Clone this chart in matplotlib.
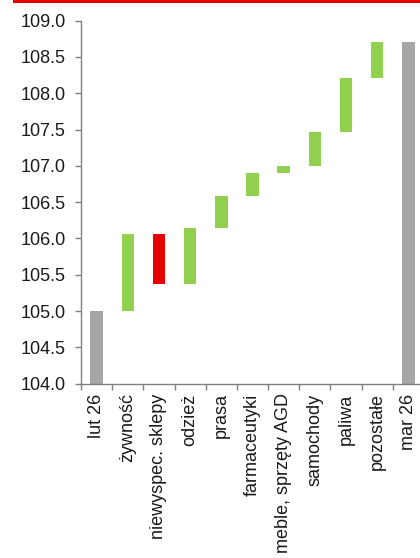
import matplotlib.pyplot as plt
import numpy as np
from matplotlib.lines import Line2D

plt.rcParams['font.family'] = ['Liberation Sans', 'DejaVu Sans']

kategorie = ['lut 26', 'żywność', 'niewyspec. sklepy', 'odzież', 'prasa',
             'farmaceutyki', 'meble, sprzęty AGD', 'samochody', 'paliwa',
             'pozostałe', 'mar 26']
start = 105.0
zmiany = [1.06, -0.69, 0.77, 0.44, 0.32, 0.10, 0.47, 0.74, 0.49]
koniec = 108.70
y_min, y_max = 104.0, 109.0

szary = '#A6A6A6'
zielony = '#92D050'
czerwony = '#E60000'

poziomy = start + np.concatenate([[0], np.cumsum(zmiany)])

fig = plt.figure(figsize=(4.2, 5.58), dpi=100)
ax = fig.add_axes([81/420, 1 - 383.7/558, 343/420, (383.7 - 20.7)/558])

x = np.arange(len(kategorie))
w = 0.4

# slupki poczatkowy i koncowy
ax.bar(x[0], start - y_min, bottom=y_min, width=w, color=szary)
ax.bar(x[-1], koniec - y_min, bottom=y_min, width=w, color=szary)

# zmiany
for i, d in enumerate(zmiany):
    dol = min(poziomy[i], poziomy[i + 1])
    kol = zielony if d >= 0 else czerwony
    ax.bar(x[i + 1], abs(d), bottom=dol, width=w, color=kol)

ax.set_xlim(-0.5, len(kategorie) - 0.5)
ax.set_ylim(y_min, y_max)
ax.set_yticks(np.arange(104.0, 109.01, 0.5))
ax.set_yticklabels(['%.1f' % v for v in np.arange(104.0, 109.01, 0.5)])

ax.set_xticks(x)
ax.set_xticklabels(kategorie, rotation=90, va='top', ha='center')
ax.set_xticks(np.arange(-0.5, len(kategorie), 1), minor=True)

for s in ['top', 'right']:
    ax.spines[s].set_visible(False)
for s in ['left', 'bottom']:
    ax.spines[s].set_color('#808080')
    ax.spines[s].set_linewidth(1.0)

ax.tick_params(axis='y', direction='out', length=4, width=1, color='#808080',
               pad=7, labelsize=13, labelcolor='#1a1a1a')
ax.tick_params(axis='x', which='major', length=0, pad=7, labelsize=13,
               labelcolor='#1a1a1a')
ax.tick_params(axis='x', which='minor', direction='out', length=4, width=1,
               color='#808080')

# czerwona linia na gorze
fig.add_artist(Line2D([14/420, 1], [1 - 1/558, 1 - 1/558], color=czerwony,
                      linewidth=2.2, transform=fig.transFigure))

fig.savefig('out.png', dpi=100)
